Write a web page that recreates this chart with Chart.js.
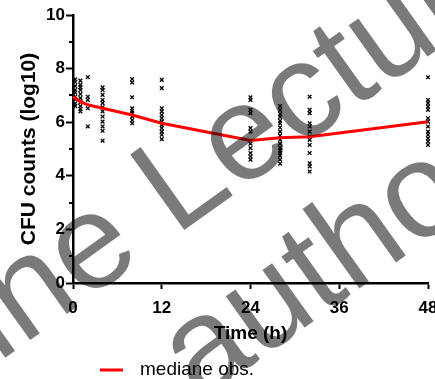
<!DOCTYPE html>
<html>
<head>
<meta charset="utf-8">
<script src="https://cdn.jsdelivr.net/npm/chart.js@4/dist/chart.umd.min.js"></script>
<style>
  html, body { margin: 0; padding: 0; background: #fff; }
  #wrap { width: 435px; height: 379px; }
</style>
</head>
<body>
<div id="wrap"><canvas id="c" width="435" height="379"></canvas></div>
<script>
// Axis ticks
const timeTicks = [0, 12, 24, 36, 48];
const countTicks = [0, 2, 4, 6, 8, 10];

// Median of the observed counts over time
const medianLabel = 'mediane obs.';
const medianTimes = [0, 1, 2, 4, 8, 12, 24, 28, 32, 48];
const medianCounts = [6.95, 6.77, 6.65, 6.52, 6.27, 5.96, 5.32, 5.42, 5.46, 6.02];

// Individual observations (log10 CFU) per sampling time
const obsTimes = [0.3, 1, 2, 4, 8, 12, 24, 28, 32, 48];
const obs_0h = [7.6, 7.5, 7.35, 7.2, 7.1, 6.95, 6.85, 6.7, 6.6];
const obs_1h = [7.55, 7.4, 7.3, 7.2, 7.05, 6.9, 6.75, 6.6, 6.5, 6.4];
const obs_2h = [7.68, 6.95, 6.83, 6.52, 5.84];
const obs_4h = [7.3, 7.2, 7.02, 6.83, 6.71, 6.56, 6.4, 6.21, 6.02, 5.84, 5.68, 5.31];
const obs_8h = [7.61, 7.48, 6.93, 6.52, 6.42, 6.33, 6.21, 6.08, 5.96];
const obs_12h = [7.58, 7.27, 6.52, 6.4, 6.27, 6.15, 6.02, 5.9, 5.78, 5.65, 5.53, 5.37];
const obs_24h = [6.93, 6.83, 6.46, 6.34, 5.78, 5.65, 5.2, 5.03, 4.85, 4.72, 4.6];
const obs_28h = [6.6, 6.45, 6.3, 6.2, 6.05, 5.95, 5.8, 5.65, 5.5, 5.35, 5.2, 5.05, 4.95, 4.85, 4.75, 4.6, 4.45];
const obs_32h = [6.95, 6.46, 6.34, 5.96, 5.84, 5.65, 5.46, 5.34, 5.15, 4.85, 4.47, 4.35, 4.16];
const obs_48h = [7.68, 6.83, 6.71, 6.58, 6.46, 6.15, 6.02, 5.84, 5.65, 5.53, 5.4, 5.28, 5.15];
const obsCounts = [obs_0h, obs_1h, obs_2h, obs_4h, obs_8h, obs_12h, obs_24h, obs_28h, obs_32h, obs_48h];

// Overlay text
const watermarkLines = ['Online Lecture', 'author'];

const FONT = "Arial, 'Liberation Sans', Helvetica, sans-serif";
Chart.defaults.font.family = FONT;
Chart.defaults.color = '#000';

const medianPoints = medianTimes.map((t, i) => ({ x: t, y: medianCounts[i] }));
const obsPoints = obsTimes.flatMap((t, i) => obsCounts[i].map(v => ({ x: t, y: v })));

// Short unlabeled ticks halfway between the labeled y ticks
const minorTicks = {
  id: 'minorTicks',
  afterDraw(chart) {
    const y = chart.scales.y;
    const ctx = chart.ctx;
    const vals = y.ticks.map(t => t.value);
    ctx.save();
    ctx.strokeStyle = '#000';
    ctx.lineWidth = 2;
    for (let i = 0; i < vals.length - 1; i++) {
      const py = Math.round(y.getPixelForValue((vals[i] + vals[i + 1]) / 2));
      ctx.beginPath();
      ctx.moveTo(y.right - 4, py);
      ctx.lineTo(y.right, py);
      ctx.stroke();
    }
    ctx.restore();
  }
};

// Key for the median line, below the time axis
const medianKey = {
  id: 'medianKey',
  afterDraw(chart) {
    const ds = chart.data.datasets[0];
    const ctx = chart.ctx;
    const yKey = 370;
    ctx.save();
    ctx.strokeStyle = ds.borderColor;
    ctx.lineWidth = 3;
    ctx.beginPath();
    ctx.moveTo(100, yKey);
    ctx.lineTo(123, yKey);
    ctx.stroke();
    ctx.fillStyle = '#000';
    ctx.font = '19px ' + FONT;
    ctx.textBaseline = 'middle';
    ctx.textAlign = 'left';
    ctx.fillText(ds.label, 140, yKey);
    ctx.restore();
  }
};

// Translucent diagonal overlay text
const watermark = {
  id: 'watermark',
  afterDraw(chart) {
    const ctx = chart.ctx;
    const angle = -35.5 * Math.PI / 180;
    const origins = [[-173, 485], [199, 403]];
    ctx.save();
    ctx.fillStyle = 'rgba(0,0,0,0.52)';
    ctx.font = '135px ' + FONT;
    ctx.textBaseline = 'alphabetic';
    ctx.textAlign = 'left';
    watermarkLines.forEach((line, i) => {
      ctx.save();
      ctx.translate(origins[i][0], origins[i][1]);
      ctx.rotate(angle);
      ctx.fillText(line, 0, 0);
      ctx.restore();
    });
    ctx.restore();
  }
};

new Chart(document.getElementById('c'), {
  type: 'scatter',
  data: {
    datasets: [
      {
        label: medianLabel,
        data: medianPoints,
        showLine: true,
        borderColor: '#ff0000',
        backgroundColor: '#ff0000',
        borderWidth: 3,
        pointRadius: 0,
        tension: 0,
        clip: false
      },
      {
        label: 'obs.',
        data: obsPoints,
        showLine: false,
        pointStyle: 'crossRot',
        pointRadius: 2.6,
        borderWidth: 1.3,
        borderColor: '#000',
        backgroundColor: '#000',
        clip: false
      }
    ]
  },
  options: {
    responsive: false,
    animation: false,
    devicePixelRatio: 1,
    layout: { padding: { top: 15, right: 7, bottom: 30, left: 0 } },
    plugins: {
      legend: { display: false },
      tooltip: { enabled: false }
    },
    scales: {
      x: {
        type: 'linear',
        min: 0,
        max: 48,
        afterBuildTicks: s => { s.ticks = timeTicks.map(v => ({ value: v })); },
        afterFit: s => { s.height = 66; s.paddingRight = 0; s.paddingLeft = 0; },
        ticks: {
          font: { size: 17, weight: 'bold' },
          color: '#000',
          padding: 9,
          maxRotation: 0
        },
        grid: {
          drawOnChartArea: false,
          drawTicks: true,
          tickLength: 6,
          tickWidth: 2,
          tickColor: '#000'
        },
        border: { display: true, color: '#000', width: 2.5 },
        title: {
          display: true,
          text: 'Time (h)',
          font: { size: 19, weight: 'bold' },
          color: '#000',
          padding: { top: 0, bottom: 4 }
        }
      },
      y: {
        min: 0,
        max: 10,
        afterBuildTicks: s => { s.ticks = countTicks.map(v => ({ value: v })); },
        afterFit: s => { s.width = 73; },
        ticks: {
          font: { size: 17, weight: 'bold' },
          color: '#000',
          padding: 1
        },
        grid: {
          drawOnChartArea: false,
          drawTicks: true,
          tickLength: 7,
          tickWidth: 2,
          tickColor: '#000'
        },
        border: { display: true, color: '#000', width: 2.5 },
        title: {
          display: true,
          text: 'CFU counts (log10)',
          font: { size: 21, weight: 'bold' },
          color: '#000',
          padding: { top: 17, bottom: 0 }
        }
      }
    }
  },
  plugins: [minorTicks, medianKey, watermark]
});
</script>
</body>
</html>
